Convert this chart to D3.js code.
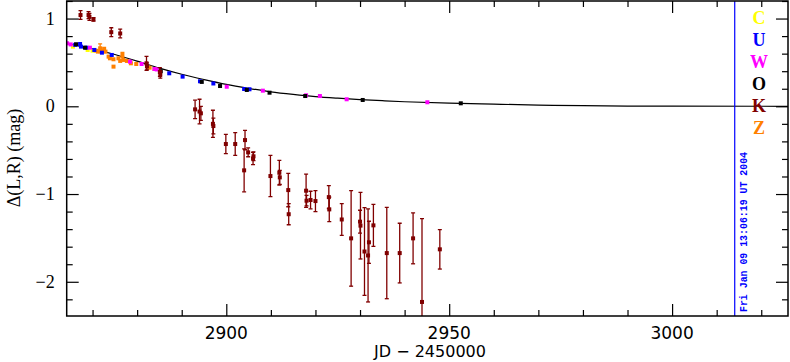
<!DOCTYPE html>
<html>
<head>
<meta charset="utf-8">
<script src="https://cdn.jsdelivr.net/npm/d3@7"></script>
<style>
  body { margin: 0; background: #fff; }
  svg { display: block; }
</style>
</head>
<body>
<div id="chart"></div>
<script>
// tick labels
const xTicks = [2900, 2950, 3000]
const yTicks = [-2, -1, 0, 1]
const legendNames = ["C", "U", "W", "O", "K", "Z"]
const stampText = "Fri Jan 09 13:06:19 UT 2004"
const stampJD = 3014.05

// model curve (JD - 2450000, mag)
const curveJD = [2864.2, 2870, 2875, 2880, 2885, 2890, 2895, 2900, 2905, 2910, 2915, 2920, 2925, 2930, 2935, 2940, 2950, 2960, 2970, 2980, 2990, 3000, 3026]
const curveVal = [0.714, 0.655, 0.59, 0.515, 0.435, 0.365, 0.305, 0.25, 0.205, 0.165, 0.135, 0.11, 0.092, 0.077, 0.064, 0.052, 0.035, 0.024, 0.014, 0.007, 0.003, 0.001, 0]

// [jd, value, error]
const seriesC = [[2865.6, 0.68, 0], [2868.9, 0.642, 0], [2870.0, 0.634, 0]]
const seriesU = [[2866.1, 0.70, 0], [2867.2, 0.71, 0], [2867.4, 0.68, 0], [2868.6, 0.668, 0], [2870.4, 0.642, 0],
  [2872.1, 0.611, 0], [2874.3, 0.585, 0], [2887.2, 0.376, 0], [2890.2, 0.338, 0], [2894.1, 0.285, 0],
  [2897.1, 0.26, 0], [2904.0, 0.197, 0], [2905.2, 0.194, 0]]
const seriesW = [[2864.3, 0.718, 0], [2865.1, 0.705, 0], [2869.4, 0.668, 0], [2878.4, 0.509, 0], [2881.0, 0.482, 0],
  [2883.9, 0.425, 0], [2884.4, 0.42, 0], [2900.1, 0.223, 0], [2908.2, 0.178, 0], [2917.9, 0.125, 0],
  [2921.0, 0.117, 0], [2927.0, 0.08, 0], [2945.1, 0.046, 0]]
const seriesO = [[2866.3, 0.707, 0], [2868.3, 0.668, 0], [2885.3, 0.40, 0], [2894.5, 0.278, 0], [2898.6, 0.231, 0],
  [2904.6, 0.186, 0], [2909.7, 0.155, 0], [2917.7, 0.117, 0], [2930.6, 0.072, 0], [2952.6, 0.034, 0]]
const seriesK = [[2867.3, 1.04, 0.05], [2869.1, 1.04, 0.04], [2869.3, 1.02, 0.04], [2870.2, 0.99, 0.02],
  [2874.2, 0.845, 0.05], [2876.2, 0.83, 0.05], [2882.1, 0.49, 0.08], [2882.2, 0.455, 0.04],
  [2885.1, 0.39, 0.05], [2885.2, 0.36, 0.04], [2893.0, -0.035, 0.105], [2894.0, -0.06, 0.14],
  [2894.3, -0.08, 0.08], [2897.0, -0.20, 0.155], [2897.1, -0.225, 0.09], [2899.9, -0.43, 0.11],
  [2902.0, -0.43, 0.13], [2904.2, -0.385, 0.11], [2904.0, -0.73, 0.245], [2904.9, -0.525, 0.05],
  [2906.0, -0.595, 0.07], [2906.1, -0.57, 0.05], [2909.9, -0.795, 0.235], [2911.9, -0.757, 0.14],
  [2912.0, -0.81, 0.08], [2913.9, -0.955, 0.19], [2914.0, -1.23, 0.12], [2917.9, -0.962, 0.19],
  [2918.0, -1.076, 0.06], [2918.9, -1.068, 0.1], [2920.0, -1.08, 0.12], [2923.0, -1.035, 0.13],
  [2923.1, -1.175, 0.14], [2925.9, -1.29, 0.18], [2928.0, -1.505, 0.545], [2930.0, -1.315, 0.13],
  [2930.1, -1.36, 0.38], [2931.0, -1.655, 0.5], [2931.8, -1.70, 0.53], [2932.0, -1.55, 0.24],
  [2933.0, -1.357, 0.24], [2936.0, -1.673, 0.52], [2938.9, -1.673, 0.34], [2941.9, -1.505, 0.29],
  [2943.9, -2.23, 0.95], [2947.9, -1.63, 0.225]]
const seriesZ = [[2870.7, 0.634, 0], [2871.2, 0.623, 0], [2871.7, 0.661, 0.05], [2871.9, 0.634, 0],
  [2872.6, 0.642, 0.03], [2872.9, 0.623, 0], [2873.6, 0.566, 0], [2873.9, 0.547, 0], [2874.7, 0.536, 0],
  [2874.7, 0.452, 0], [2875.8, 0.547, 0], [2876.2, 0.517, 0], [2876.7, 0.585, 0.03], [2876.9, 0.528, 0],
  [2877.7, 0.517, 0], [2878.6, 0.49, 0], [2879.8, 0.482, 0], [2882.8, 0.44, 0], [2883.9, 0.425, 0]]

const colors = { C: "#ffff00", U: "#0000ff", W: "#ff00ff", O: "#000000", K: "#800000", Z: "#ff8000" }
const drawOrder = [["Z", seriesZ], ["C", seriesC], ["U", seriesU], ["W", seriesW], ["O", seriesO], ["K", seriesK]]

const W = 790, H = 362
const margin = { top: 1, right: 2, bottom: 46, left: 66.7 }
const width = W - margin.left - margin.right
const height = H - margin.top - margin.bottom

const svg = d3.select("#chart")
    .append("svg")
    .attr("width", W)
    .attr("height", H)

const g = svg.append("g")
    .attr("transform", `translate(${margin.left},${margin.top})`)

const x = d3.scaleLinear().domain([2864.2, 3026]).range([0, width])
const y = d3.scaleLinear().domain([-2.39, 1.2]).range([height, 0])

g.append("clipPath").attr("id", "plotclip")
    .append("rect").attr("width", width).attr("height", height)

const plot = g.append("g").attr("clip-path", "url(#plotclip)")

// model curve
const line = d3.line()
    .x(d => x(d[0]))
    .y(d => y(d[1]))
    .curve(d3.curveMonotoneX)

plot.append("path")
    .datum(curveJD.map((d, i) => [d, curveVal[i]]))
    .attr("fill", "none")
    .attr("stroke", "#000")
    .attr("stroke-width", 1.2)
    .attr("d", line)

// time stamp line
plot.append("line")
    .attr("x1", x(stampJD)).attr("x2", x(stampJD))
    .attr("y1", 0).attr("y2", height)
    .attr("stroke", "#0000ff")
    .attr("stroke-width", 1.2)

// points with error bars
drawOrder.forEach(([name, data]) => {
    const c = colors[name]
    const s = plot.append("g")
    const withErr = data.filter(d => d[2] > 0)
    s.selectAll("line.bar").data(withErr).join("line")
        .attr("x1", d => x(d[0])).attr("x2", d => x(d[0]))
        .attr("y1", d => y(d[1] - d[2])).attr("y2", d => y(d[1] + d[2]))
        .attr("stroke", c).attr("stroke-width", 1.3)
    s.selectAll("line.cap1").data(withErr).join("line")
        .attr("x1", d => x(d[0]) - 2).attr("x2", d => x(d[0]) + 2)
        .attr("y1", d => y(d[1] + d[2])).attr("y2", d => y(d[1] + d[2]))
        .attr("stroke", c).attr("stroke-width", 1.3)
    s.selectAll("line.cap2").data(withErr).join("line")
        .attr("x1", d => x(d[0]) - 2).attr("x2", d => x(d[0]) + 2)
        .attr("y1", d => y(d[1] - d[2])).attr("y2", d => y(d[1] - d[2]))
        .attr("stroke", c).attr("stroke-width", 1.3)
    s.selectAll("rect").data(data).join("rect")
        .attr("x", d => x(d[0]) - 2)
        .attr("y", d => y(d[1]) - 2)
        .attr("width", 4)
        .attr("height", 4)
        .attr("fill", c)
})

// axes: ticks pointing inward on all four sides
const xMinor = d3.range(2870, 3030, 10).filter(v => v % 50 !== 0)
const yMinor = d3.range(-2.2, 1.21, 0.2).map(v => +v.toFixed(1)).filter(v => Math.abs(v % 1) > 0.01)

const axes = [
    [() => d3.axisBottom(x), `translate(0,${height})`, xTicks, xMinor],
    [() => d3.axisTop(x), "translate(0,0)", xTicks, xMinor],
    [() => d3.axisLeft(y), "translate(0,0)", yTicks, yMinor],
    [() => d3.axisRight(y), `translate(${width},0)`, yTicks, yMinor]
]
axes.forEach(([make, tr, major, minor]) => {
    [[major, 12], [minor, 6]].forEach(([vals, size]) => {
        g.append("g").attr("transform", tr)
            .call(make().tickValues(vals).tickSizeInner(-size).tickSizeOuter(0).tickFormat(""))
            .call(a => a.select(".domain").remove())
            .selectAll("line").attr("stroke", "#000").attr("stroke-width", 1.2)
    })
})

// frame
g.append("rect")
    .attr("width", width).attr("height", height)
    .attr("fill", "none").attr("stroke", "#000").attr("stroke-width", 1.5)

// tick labels
g.append("g").selectAll("text").data(xTicks).join("text")
    .attr("x", d => x(d))
    .attr("y", height + 23)
    .attr("text-anchor", "middle")
    .style("font-family", "'DejaVu Sans', sans-serif")
    .style("font-size", "17px")
    .text(d => d)

g.append("g").selectAll("text").data(yTicks).join("text")
    .attr("x", -12)
    .attr("y", d => y(d) + 6)
    .attr("text-anchor", "end")
    .style("font-family", "'Liberation Serif', serif")
    .style("font-size", "18px")
    .text(d => d3.format("d")(d))

// axis titles
svg.append("text")
    .attr("x", 430)
    .attr("y", 357)
    .attr("text-anchor", "middle")
    .style("font-family", "'DejaVu Sans', sans-serif")
    .style("font-size", "16px")
    .text("JD \u2212 2450000")

svg.append("text")
    .attr("transform", "translate(20,158) rotate(-90)")
    .attr("text-anchor", "middle")
    .style("font-family", "'Liberation Serif', serif")
    .style("font-size", "18px")
    .text("\u0394(L,R) (mag)")

// legend letters
svg.append("g").selectAll("text").data(legendNames).join("text")
    .attr("x", 759)
    .attr("y", (d, i) => 24 + i * 22)
    .attr("text-anchor", "middle")
    .attr("fill", d => colors[d])
    .style("font-family", "'Liberation Serif', serif")
    .style("font-weight", "bold")
    .style("font-size", "18px")
    .text(d => d)

// time stamp text
svg.append("text")
    .attr("transform", `translate(${margin.left + x(stampJD) + 12},312) rotate(-90)`)
    .attr("fill", "#0000ff")
    .attr("textLength", 160)
    .attr("lengthAdjust", "spacingAndGlyphs")
    .style("font-family", "'Liberation Mono', monospace")
    .style("font-weight", "bold")
    .style("font-size", "11px")
    .text(stampText)
</script>
</body>
</html>
